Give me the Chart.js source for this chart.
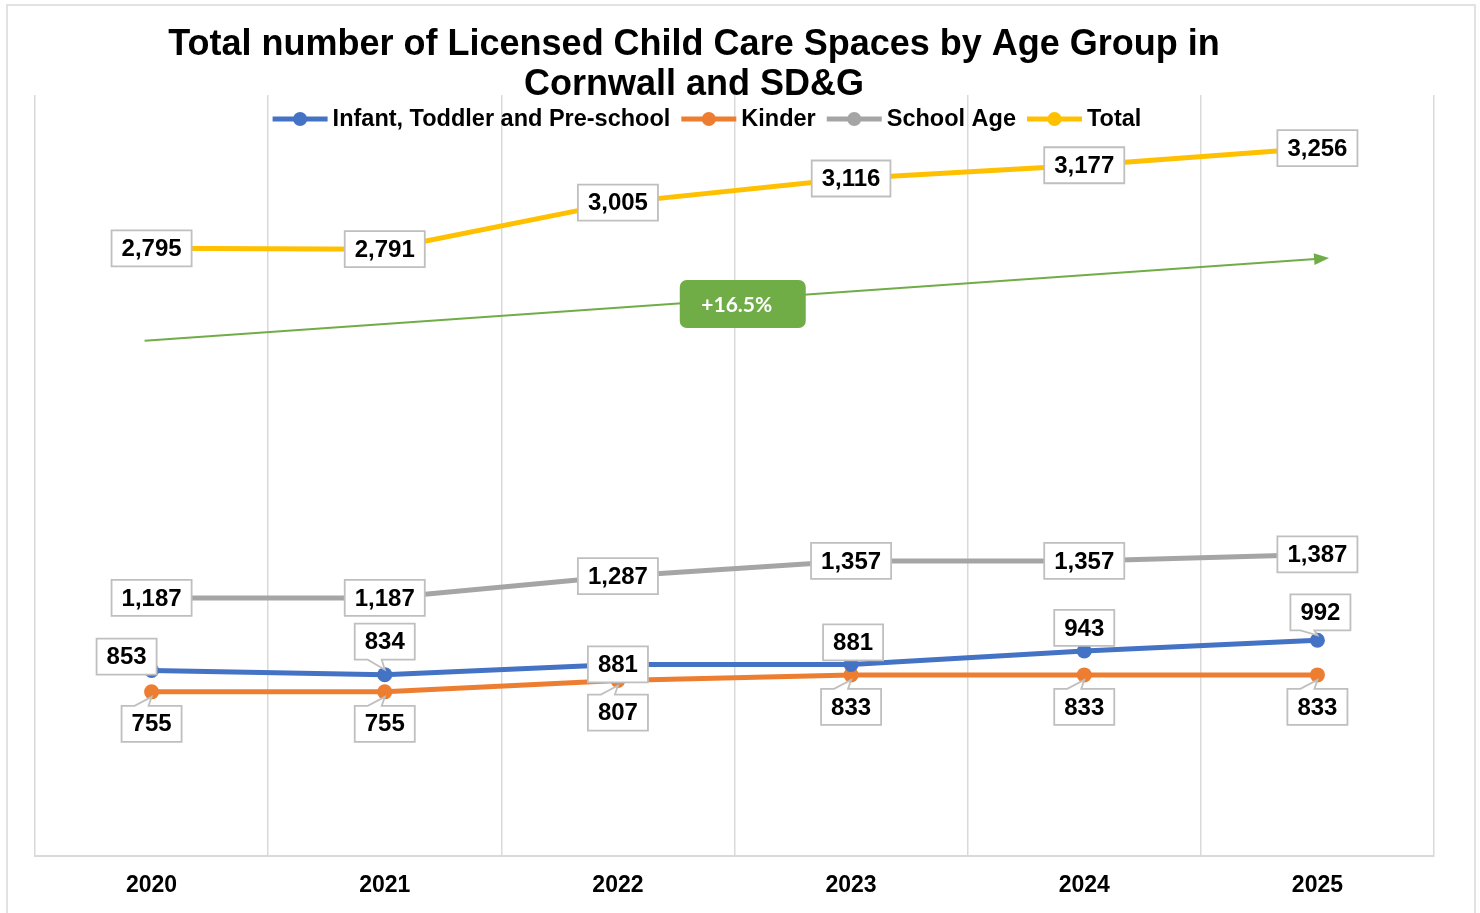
<!DOCTYPE html>
<html>
<head>
<meta charset="utf-8">
<title>Licensed Child Care Spaces</title>
<script src="https://cdn.jsdelivr.net/npm/chart.js@4"></script>
<style>
  html, body { margin: 0; padding: 0; background: #fff; }
  canvas { display: block; }
</style>
</head>
<body>
<canvas id="spaces" width="1480" height="913"></canvas>
<script>
const years = ['2020', '2021', '2022', '2023', '2024', '2025'];
const infantToddlerPreschool = [853, 834, 881, 881, 943, 992];
const kinder = [755, 755, 807, 833, 833, 833];
const schoolAge = [1187, 1187, 1287, 1357, 1357, 1387];
const total = [2795, 2791, 3005, 3116, 3177, 3256];

const seriesNames = ['Infant, Toddler and Pre-school', 'Kinder', 'School Age', 'Total'];
const titleLines = ['Total number of Licensed Child Care Spaces by Age Group in', 'Cornwall and SD&G'];

// growth arrow, in (category index, value) units
const trendFrom = { x: -0.03, y: 2370 };
const trendTo = { x: 5.05, y: 2750 };

const colors = ['#4472c4', '#ed7d31', '#a5a5a5', '#ffc000'];
const boldFont = '"Liberation Sans", Arial, sans-serif';

// label box offsets from the point, px
const labelOffsets = [
  [[-25, -14], [0, -33], [0, 0], [2, -22], [0, -23], [3, -28]],
  [[0, 32], [0, 32], [0, 32], [0, 32], [0, 32], [0, 32]],
  null,
  null
];

const fmt = v => v.toLocaleString('en-US');

function drawCallout(ctx, cx, cy, w, h, tipX, tipY) {
  const l = cx - w / 2, r = cx + w / 2, t = cy - h / 2, b = cy + h / 2;
  const b0 = Math.max(l + 3, Math.min(tipX - 17, r - 17));
  const b1 = b0 + 14;
  ctx.beginPath();
  ctx.moveTo(l, t);
  if (tipY < t - 2) { ctx.lineTo(b0, t); ctx.lineTo(tipX, tipY); ctx.lineTo(b1, t); }
  ctx.lineTo(r, t);
  ctx.lineTo(r, b);
  if (tipY > b + 2) { ctx.lineTo(b1, b); ctx.lineTo(tipX, tipY); ctx.lineTo(b0, b); }
  ctx.lineTo(l, b);
  ctx.closePath();
  ctx.fillStyle = '#fff';
  ctx.fill();
  ctx.strokeStyle = '#bfbfbf';
  ctx.lineWidth = 1.8;
  ctx.stroke();
}

const decorations = {
  id: 'decorations',
  beforeDraw(chart) {
    const ctx = chart.ctx;
    ctx.save();
    ctx.fillStyle = '#fff';
    ctx.fillRect(0, 0, chart.width, chart.height);
    ctx.strokeStyle = '#d9d9d9';
    ctx.lineWidth = 1.5;
    ctx.strokeRect(7, 5, 1468, 920);
    ctx.restore();
  },
  afterDatasetsDraw(chart) {
    const ctx = chart.ctx;
    const xs = chart.scales.x, ys = chart.scales.y;

    // growth arrow with its percentage badge
    const x0 = xs.getPixelForValue(trendFrom.x), y0 = ys.getPixelForValue(trendFrom.y);
    const x1 = xs.getPixelForValue(trendTo.x), y1 = ys.getPixelForValue(trendTo.y);
    const ang = Math.atan2(y1 - y0, x1 - x0);
    ctx.save();
    ctx.strokeStyle = '#70ad47';
    ctx.fillStyle = '#70ad47';
    ctx.lineWidth = 2;
    ctx.beginPath();
    ctx.moveTo(x0, y0);
    ctx.lineTo(x1 - 10 * Math.cos(ang), y1 - 10 * Math.sin(ang));
    ctx.stroke();
    ctx.beginPath();
    ctx.moveTo(x1, y1);
    ctx.lineTo(x1 - 15 * Math.cos(ang) + 6 * Math.sin(ang), y1 - 15 * Math.sin(ang) - 6 * Math.cos(ang));
    ctx.lineTo(x1 - 15 * Math.cos(ang) - 6 * Math.sin(ang), y1 - 15 * Math.sin(ang) + 6 * Math.cos(ang));
    ctx.closePath();
    ctx.fill();

    const growth = (total[total.length - 1] - total[0]) / total[0] * 100;
    const mx = x0 + (x1 - x0) * 0.505, my = y0 + (y1 - y0) * 0.505 + 5;
    ctx.beginPath();
    ctx.roundRect(mx - 63, my - 24, 126, 48, 7);
    ctx.fill();
    ctx.fillStyle = '#fff';
    ctx.font = 'bold 21px Lato, "Open Sans", sans-serif';
    ctx.textAlign = 'center';
    ctx.textBaseline = 'middle';
    ctx.fillText('+' + growth.toFixed(1) + '%', mx - 6, my + 1);
    ctx.restore();

    // value labels, drawn from the last series back to the first
    ctx.save();
    ctx.font = 'bold 24px ' + boldFont;
    ctx.textAlign = 'center';
    ctx.textBaseline = 'middle';
    for (let d = chart.data.datasets.length - 1; d >= 0; d--) {
      const meta = chart.getDatasetMeta(d);
      const values = chart.data.datasets[d].data;
      meta.data.forEach((pt, i) => {
        const off = labelOffsets[d] ? labelOffsets[d][i] : [0, 0];
        const text = fmt(values[i]);
        const w = ctx.measureText(text).width + 20;
        const h = 36;
        const cx = pt.x + off[0], cy = pt.y + off[1];
        const tipY = pt.y + (off[1] < 0 ? -5 : 5);
        drawCallout(ctx, cx, cy, w, h, pt.x, tipY);
        ctx.fillStyle = '#000';
        ctx.fillText(text, cx, cy + 1);
      });
    }
    ctx.restore();
  },
  afterDraw(chart) {
    const ctx = chart.ctx;
    ctx.save();
    ctx.fillStyle = '#000';
    ctx.textAlign = 'center';
    ctx.textBaseline = 'middle';
    ctx.font = 'bold 36px ' + boldFont;
    titleLines.forEach((line, i) => ctx.fillText(line, 694, 45 + i * 40));

    // legend: line + marker, then the series name
    ctx.font = 'bold 23.5px ' + boldFont;
    const sym = 55, gapText = 5, gapItem = 11;
    const widths = seriesNames.map(n => sym + gapText + ctx.measureText(n).width);
    const full = widths.reduce((a, b) => a + b, 0) + gapItem * (seriesNames.length - 1);
    let x = 707 - full / 2;
    const y = 119;
    ctx.textAlign = 'left';
    seriesNames.forEach((name, i) => {
      ctx.strokeStyle = colors[i];
      ctx.fillStyle = colors[i];
      ctx.lineWidth = 5;
      ctx.beginPath();
      ctx.moveTo(x, y);
      ctx.lineTo(x + sym, y);
      ctx.stroke();
      ctx.beginPath();
      ctx.arc(x + sym / 2, y, 7, 0, Math.PI * 2);
      ctx.fill();
      ctx.fillStyle = '#000';
      ctx.fillText(name, x + sym + gapText, y + 1);
      x += widths[i] + gapItem;
    });
    ctx.restore();
  }
};

const seriesData = [infantToddlerPreschool, kinder, schoolAge, total];

new Chart(document.getElementById('spaces').getContext('2d'), {
  type: 'line',
  data: {
    labels: years,
    datasets: seriesData.map((vals, i) => ({
      label: seriesNames[i],
      data: vals,
      borderColor: colors[i],
      backgroundColor: colors[i],
      borderWidth: 5,
      pointRadius: 7.5,
      pointHoverRadius: 7.5,
      pointBorderWidth: 0,
      tension: 0,
      fill: false
    }))
  },
  options: {
    responsive: false,
    devicePixelRatio: 1,
    animation: false,
    layout: { padding: { left: 35, right: 46, top: 95, bottom: 0 } },
    plugins: {
      legend: { display: false },
      title: { display: false },
      tooltip: { enabled: false }
    },
    scales: {
      x: {
        offset: true,
        grid: { offset: true, color: '#d9d9d9', lineWidth: 1.5, drawTicks: false },
        border: { color: '#d9d9d9', width: 2 },
        ticks: { color: '#000', font: { family: boldFont, size: 23, weight: 'bold' }, padding: 16 },
        afterFit(scale) { scale.height = 57; }
      },
      y: { display: false, min: 0, max: 3500 }
    }
  },
  plugins: [decorations]
});
</script>
</body>
</html>
